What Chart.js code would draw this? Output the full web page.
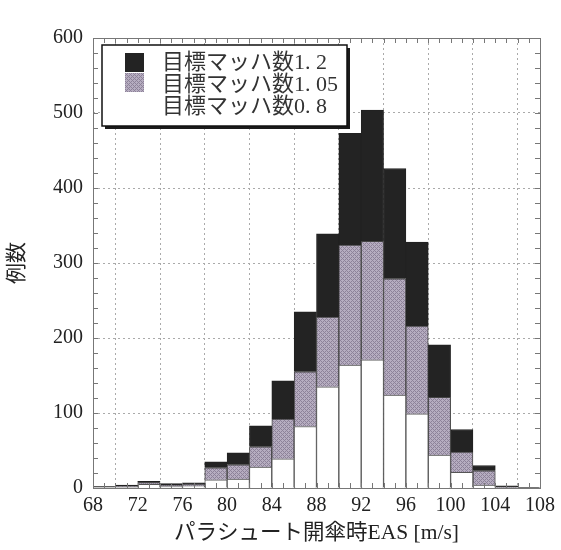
<!DOCTYPE html>
<html lang="ja">
<head>
<meta charset="UTF-8">
<title>パラシュート開傘時EAS</title>
<script src="https://cdn.jsdelivr.net/npm/chart.js"></script>
<style>
  html, body { margin: 0; padding: 0; background: #fff; }
</style>
</head>
<body>
<canvas id="histChart" width="561" height="550"></canvas>

<script>
// bins are 2 m/s wide, start values below
var binStarts = [68, 70, 72, 74, 76, 78, 80, 82, 84, 86, 88, 90, 92, 94, 96, 98, 100, 102, 104, 106];
var binWidth = 2;
var xTickValues = [68, 72, 76, 80, 84, 88, 92, 96, 100, 104, 108];
var yTickValues = [0, 100, 200, 300, 400, 500, 600];

var seriesNames = ['目標マッハ数0. 8', '目標マッハ数1. 05', '目標マッハ数1. 2'];
var mach08  = [1, 1, 5, 2, 3, 11, 12, 28, 39, 82, 135, 164, 171, 124, 99, 44, 21, 4, 0, 0];
var mach105 = [0, 1, 2, 2, 2, 16, 19, 27, 53, 73, 93, 160, 158, 155, 117, 77, 27, 19, 1, 0];
var mach12  = [1, 2, 2, 2, 2, 8, 16, 28, 51, 80, 111, 149, 175, 147, 112, 70, 30, 7, 2, 1];

var serifFont = "'Liberation Serif', 'Noto Sans CJK JP', serif";

function makeHatch() {
    var c = document.createElement('canvas');
    c.width = 4; c.height = 4;
    var g = c.getContext('2d');
    g.fillStyle = '#b6adc0';
    g.fillRect(0, 0, 4, 4);
    g.fillStyle = '#8d8299';
    for (var x = 0; x < 4; x++) {
        for (var y = 0; y < 4; y++) {
            if ((x + y) % 4 === 0 || (x - y + 4) % 4 === 0) g.fillRect(x, y, 1, 1);
        }
    }
    return g.createPattern(c, 'repeat');
}

function toPoints(values) {
    return values.map(function(v, i) {
        return { x: binStarts[i] + binWidth / 2, y: v };
    });
}

// frame + small inside ticks
var framePlugin = {
    id: 'frame',
    afterDatasetsDraw: function(chart) {
        var c = chart.ctx, a = chart.chartArea;
        var xs = chart.scales.x, ys = chart.scales.y;
        c.save();
        c.strokeStyle = '#777';
        c.lineWidth = 1;
        c.beginPath();
        for (var v = xs.min; v <= xs.max; v += 1) {
            var px = Math.round(xs.getPixelForValue(v)) + 0.5;
            c.moveTo(px, a.bottom); c.lineTo(px, a.bottom - 5);
            c.moveTo(px, a.top); c.lineTo(px, a.top + 5);
        }
        for (var w = ys.min; w <= ys.max; w += 20) {
            var py = Math.round(ys.getPixelForValue(w)) + 0.5;
            c.moveTo(a.left, py); c.lineTo(a.left + 5, py);
            c.moveTo(a.right, py); c.lineTo(a.right - 5, py);
        }
        c.stroke();
        c.strokeRect(Math.round(a.left) + 0.5, Math.round(a.top) + 0.5,
                     Math.round(a.right - a.left), Math.round(a.bottom - a.top));
        c.restore();
    }
};

// legend box drawn inside the plot, top-left
var boxLegend = {
    id: 'boxLegend',
    afterDraw: function(chart) {
        var c = chart.ctx, a = chart.chartArea;
        var bx = a.left + 9, by = a.top + 7, bw = 245, bh = 81;
        c.save();
        c.fillStyle = '#1a1a1a';
        c.fillRect(bx + 3, by + 3, bw, bh);
        c.fillStyle = '#fff';
        c.fillRect(bx, by, bw, bh);
        c.strokeStyle = '#111';
        c.lineWidth = 1.5;
        c.strokeRect(bx, by, bw, bh);
        c.font = '22px ' + serifFont;
        c.textBaseline = 'middle';
        var ds = chart.data.datasets;
        for (var k = 0; k < ds.length; k++) {
            var d = ds[ds.length - 1 - k];
            c.fillStyle = d.backgroundColor;
            c.fillRect(bx + 23, by + 8 + k * 20, 19, 19);
            c.fillStyle = '#333';
            c.fillText(d.label, bx + 60, by + 18 + k * 22);
        }
        c.restore();
    }
};

var hatch = makeHatch();
var ctx = document.getElementById('histChart').getContext('2d');

var histChart = new Chart(ctx, {
    type: 'bar',
    data: {
        datasets: [{
            label: seriesNames[0],
            data: toPoints(mach08),
            backgroundColor: '#ffffff',
            borderColor: '#555',
            borderWidth: 1
        }, {
            label: seriesNames[1],
            data: toPoints(mach105),
            backgroundColor: hatch,
            borderColor: '#444',
            borderWidth: 1
        }, {
            label: seriesNames[2],
            data: toPoints(mach12),
            backgroundColor: '#232323',
            borderColor: '#222',
            borderWidth: 1
        }]
    },
    options: {
        responsive: false,
        animation: false,
        barPercentage: 1,
        categoryPercentage: 1,
        layout: { padding: { top: 38, right: 18, left: 0, bottom: 0 } },
        plugins: {
            legend: { display: false },
            tooltip: { enabled: false }
        },
        scales: {
            x: {
                type: 'linear',
                min: 68,
                max: 108,
                stacked: true,
                offset: false,
                afterBuildTicks: function(scale) {
                    scale.ticks = xTickValues.map(function(v) { return { value: v }; });
                },
                afterFit: function(scale) { scale.height = 62; },
                ticks: {
                    color: '#222',
                    padding: 6,
                    maxRotation: 0,
                    font: { family: serifFont, size: 20 }
                },
                grid: { color: '#aaa', lineWidth: 1, drawTicks: false },
                border: { display: false, dash: [2, 3] },
                title: {
                    display: true,
                    text: 'パラシュート開傘時EAS [m/s]',
                    color: '#222',
                    padding: { top: 0, bottom: 4 },
                    font: { family: serifFont, size: 21.5 }
                }
            },
            y: {
                min: 0,
                max: 600,
                stacked: true,
                afterBuildTicks: function(scale) {
                    scale.ticks = yTickValues.map(function(v) { return { value: v }; });
                },
                afterFit: function(scale) { scale.width = 93; },
                ticks: {
                    color: '#222',
                    padding: 10,
                    font: { family: serifFont, size: 20 }
                },
                grid: { color: '#aaa', lineWidth: 1, drawTicks: false },
                border: { display: false, dash: [2, 3] },
                title: {
                    display: true,
                    text: '例数',
                    color: '#222',
                    padding: { top: 5, bottom: 0 },
                    font: { family: serifFont, size: 21 }
                }
            }
        }
    },
    plugins: [framePlugin, boxLegend]
});
</script>
</body>
</html>
